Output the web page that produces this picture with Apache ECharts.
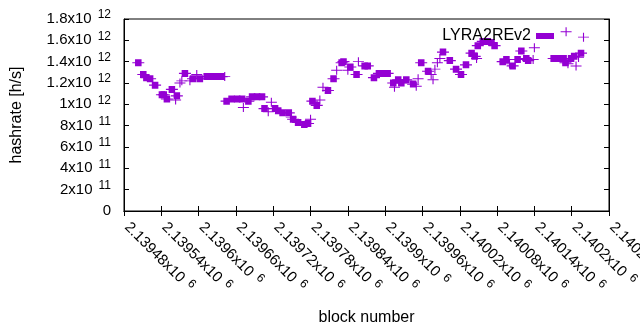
<!DOCTYPE html>
<html>
<head>
<meta charset="utf-8">
<script src="https://cdn.jsdelivr.net/npm/echarts@6/dist/echarts.min.js"></script>
<style>
html, body { margin: 0; padding: 0; background: #fff; }
#main { width: 640px; height: 330px; }
</style>
</head>
<body>
<div id="main"></div>
<script>
// filled squares (with short horizontal arms)
var sqBlocks = [2139503,2139511,2139516,2139522,2139530,2139541,2139544,2139549,2139557,2139565,
  2139578,2139591,2139602,2139613,2139621,2139629,2139637,2139645,2139653,2139662,
  2139670,2139680,2139686,2139694,2139702,2139706,2139723,2139728,2139735,2139745,
  2139752,2139760,2139770,2139776,2139783,2139790,2139808,2139817,2139830,2139833,
  2139844,2139854,2139867,2139872,2139882,2139890,2139898,2139904,2139913,2139921,
  2139926,2139934,2139945,2139958,2139969,2139993,2140004,2140014,2140022,2140030,
  2140039,2140044,2140049,2140057,2140065,2140071,2140076,2140089,2140095,2140105,
  2140113,2140119,2140127,2140130,2140171,2140179,2140187,2140190,2140199,2140204,2140215];
var sqHash = [1.39e12,1.28e12,1.25e12,1.24e12,1.18e12,1.09e12,1.09e12,1.05e12,1.14e12,1.08e12,
  1.29e12,1.24e12,1.24e12,1.26e12,1.26e12,1.26e12,1.26e12,1.03e12,1.05e12,1.05e12,
  1.05e12,1.03e12,1.07e12,1.07e12,1.07e12,0.96e12,0.96e12,0.94e12,0.92e12,0.92e12,
  0.86e12,0.83e12,0.81e12,0.82e12,1.03e12,0.99e12,1.13e12,1.24e12,1.39e12,1.40e12,
  1.35e12,1.28e12,1.36e12,1.36e12,1.25e12,1.29e12,1.29e12,1.29e12,1.20e12,1.23e12,
  1.20e12,1.23e12,1.19e12,1.39e12,1.31e12,1.49e12,1.41e12,1.33e12,1.28e12,1.37e12,
  1.48e12,1.45e12,1.55e12,1.59e12,1.59e12,1.58e12,1.55e12,1.40e12,1.42e12,1.36e12,
  1.42e12,1.50e12,1.43e12,1.41e12,1.43e12,1.43e12,1.43e12,1.39e12,1.43e12,1.45e12,1.48e12];

// plus points
var plBlocks = [2139563,2139570,2139573,2139586,2139597,2139642,2139672,2139712,2139717,2139749,
  2139780,2139795,2139800,2139822,2139840,2139857,2139915,2139950,2139953,2139974,
  2139977,2139980,2139984,2139988,2140047,2140100,2140138,2140140,2140191,2140194,
  2140207,2140211,2140219];
var plHash = [1.04e12,1.20e12,1.22e12,1.22e12,1.28e12,1.26e12,0.97e12,0.93e12,1.02e12,0.88e12,
  0.86e12,1.04e12,1.16e12,1.32e12,1.32e12,1.40e12,1.16e12,1.17e12,1.24e12,1.28e12,
  1.23e12,1.33e12,1.39e12,1.43e12,1.43e12,1.38e12,1.42e12,1.53e12,1.68e12,1.38e12,
  1.36e12,1.44e12,1.63e12];

var seriesName = 'LYRA2REv2';
var xMin = 2139480, xMax = 2140260, xStep = 60;
var yMin = 0, yMax = 1.8e12, yStep = 2e11;

var purple = '#9400d3';
var font = 'Liberation Sans, Arial, sans-serif';

function sciLabel(v) {
  if (v === 0) return '{a|0}';
  var e = Math.floor(Math.log10(v) + 1e-9);
  var m = parseFloat((v / Math.pow(10, e)).toPrecision(6));
  return '{a|' + m + 'x10}{s|' + e + '}';
}

var richY = {
  a: { fontSize: 15, lineHeight: 20, fontFamily: font, color: '#000' },
  s: { fontSize: 12, lineHeight: 12, verticalAlign: 'top', padding: [0, 0, 0, 6], fontFamily: font, color: '#000' }
};
var richX = {
  a: { fontSize: 15, lineHeight: 20, padding: [0, 0, 0, 4], fontFamily: font, color: '#000' },
  s: { fontSize: 12, lineHeight: 12, verticalAlign: 'top', padding: [0, 0, 0, 6], fontFamily: font, color: '#000' }
};

function zip(xs, ys) {
  var out = [];
  for (var i = 0; i < xs.length; i++) out.push([xs[i], ys[i]]);
  return out;
}

var myChart = echarts.init(document.getElementById('main'));
var option = {
  animation: false,
  backgroundColor: '#fff',
  textStyle: { fontFamily: font },
  grid: {
    left: 124, right: 31, top: 19, bottom: 119,
    containLabel: false, outerBoundsMode: 'none',
    show: true, borderColor: '#000', borderWidth: 1, backgroundColor: 'transparent'
  },
  legend: {
    data: [seriesName],
    right: 81, top: 23,
    align: 'right',
    icon: 'rect',
    itemWidth: 18, itemHeight: 6,
    itemGap: 5,
    textStyle: { fontSize: 16, color: '#000', fontFamily: font }
  },
  xAxis: [{
    type: 'value', min: xMin, max: xMax, interval: xStep,
    name: 'block number', nameLocation: 'middle', nameGap: 99,
    nameTextStyle: { fontSize: 16, color: '#000', fontFamily: font },
    axisLine: { show: true, lineStyle: { color: '#000' } },
    axisTick: { show: true, inside: true, length: 5, lineStyle: { color: '#000' } },
    splitLine: { show: false },
    axisLabel: {
      rotate: -45, margin: 11, showMinLabel: true, showMaxLabel: true,
      formatter: sciLabel, rich: richX
    }
  }, {
    type: 'value', position: 'top', min: xMin, max: xMax, interval: xStep,
    axisLine: { show: true, lineStyle: { color: '#000' } },
    axisTick: { show: true, inside: true, length: 5, lineStyle: { color: '#000' } },
    axisLabel: { show: false }, splitLine: { show: false }
  }],
  yAxis: [{
    type: 'value', min: yMin, max: yMax, interval: yStep,
    name: 'hashrate [h/s]', nameLocation: 'middle', nameGap: 99, nameRotate: 90,
    nameTextStyle: { fontSize: 16, color: '#000', fontFamily: font },
    axisLine: { show: true, lineStyle: { color: '#000' } },
    axisTick: { show: true, inside: true, length: 5, lineStyle: { color: '#000' } },
    splitLine: { show: false },
    axisLabel: { margin: 13, formatter: sciLabel, rich: richY }
  }, {
    type: 'value', position: 'right', min: yMin, max: yMax, interval: yStep,
    axisLine: { show: true, lineStyle: { color: '#000' } },
    axisTick: { show: true, inside: true, length: 5, lineStyle: { color: '#000' } },
    axisLabel: { show: false }, splitLine: { show: false }
  }],
  series: [{
    name: seriesName,
    type: 'scatter',
    symbol: 'path://M0,2.5H2.5V0H8.5V2.5H11V3.5H8.5V6H2.5V3.5H0Z',
    symbolSize: [12, 7],
    itemStyle: { color: purple, opacity: 1 },
    data: zip(sqBlocks, sqHash)
  }, {
    name: 'plus',
    type: 'scatter',
    symbol: 'path://M0,4.5H4.5V0H5.5V4.5H10V5.5H5.5V10H4.5V5.5H0Z',
    symbolSize: [11, 9],
    itemStyle: { color: purple, opacity: 1 },
    data: zip(plBlocks, plHash)
  }]
};
myChart.setOption(option);
</script>
</body>
</html>
